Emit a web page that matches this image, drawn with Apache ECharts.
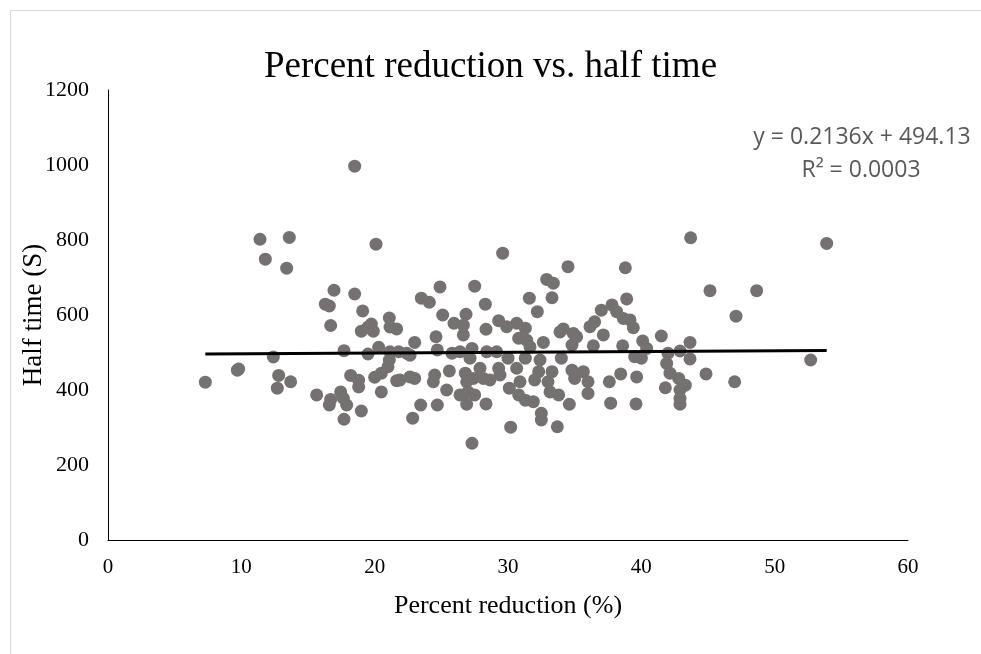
<!DOCTYPE html>
<html>
<head>
<meta charset="utf-8">
<script src="https://cdn.jsdelivr.net/npm/echarts@6/dist/echarts.min.js"></script>
<style>
  html, body { margin: 0; padding: 0; background: #fff; }
  .frame {
    position: absolute; left: 10px; top: 10px; width: 980px; height: 650px;
    border-top: 1px solid #d9d9d9; border-left: 1px solid #d9d9d9;
  }
  #chart { position: absolute; left: 0; top: 0; width: 981px; height: 654px; }
</style>
</head>
<body>
<div class="frame"></div>
<div id="chart"></div>
<script>
// percent reduction (%)
const reduction = [
  7.3, 9.7, 9.8, 11.4, 11.8, 13.6, 13.4, 12.4, 12.8, 12.7, 13.7,
  20.1, 16.95, 18.5, 16.3, 16.6, 19.1, 16.7, 19.75, 19.5, 21.1, 19.0, 19.9, 21.15, 21.65,
  17.7, 19.5, 20.3, 21.15, 21.8, 21.1, 21.0, 18.2, 18.8, 18.8, 20.0, 20.5, 21.65, 20.5,
  15.65, 16.7, 16.6, 17.45, 17.9, 17.65, 19.0, 17.7,
  29.6, 24.9, 27.5, 23.5, 24.1, 28.3, 25.1, 26.85, 25.95, 26.65, 29.3, 29.9, 28.35,
  24.6, 26.65, 23.0, 22.4, 22.65, 24.7, 25.8, 26.4, 27.3, 27.15, 28.4, 29.15,
  25.6, 24.5, 24.4, 22.65, 23.0, 21.9, 26.8, 26.9, 27.4, 27.9, 28.15, 28.65, 29.3, 29.4,
  25.4, 26.4, 27.0, 27.5, 30.1, 23.45, 24.7, 26.9, 28.35, 22.85, 30.2, 27.3,
  34.5, 32.9, 33.4, 31.6, 33.3, 32.2, 37.0, 37.8, 36.5, 36.15, 37.15,
  30.65, 31.3, 30.8, 31.4, 33.9, 34.15, 34.9, 35.15, 32.65, 34.8, 36.4, 31.65,
  30.0, 30.65, 31.3, 32.4, 34.0, 32.3, 32.0, 33.3, 33.0, 34.8, 35.0, 35.65, 36.0,
  30.9, 30.8, 31.3, 33.15, 33.8, 36.0, 31.9, 37.6, 37.7, 34.6, 32.5, 32.5, 33.7,
  43.7, 38.8, 45.15, 38.9, 38.15, 38.65, 39.15, 39.4, 41.5, 40.1, 40.4, 38.6,
  43.65, 42.9, 39.5, 40.0, 42.0, 41.9, 43.65, 38.45, 39.65, 42.15, 42.8, 43.3, 42.9,
  44.85, 41.8, 42.9, 42.9, 39.6,
  53.9, 48.65, 47.1, 52.7, 47.0, 18.5
];
// half time (S)
const halfTime = [
  421, 453, 456, 802, 749, 807, 725, 488, 439, 405, 422,
  789, 666, 656, 629, 624, 611, 572, 576, 568, 592, 557, 557, 568, 563,
  505, 496, 514, 502, 502, 480, 462, 439, 426, 408, 434, 445, 425, 395,
  387, 375, 360, 395, 360, 378, 344, 322,
  765, 675, 677, 645, 634, 629, 600, 602, 578, 573, 585, 569, 562,
  542, 547, 527, 498, 493, 507, 498, 502, 511, 485, 502, 502,
  451, 440, 422, 435, 431, 427, 445, 422, 431, 458, 431, 427, 458, 440,
  400, 387, 395, 387, 405, 360, 360, 362, 363, 325, 301, 258,
  729, 695, 685, 645, 646, 609, 613, 627, 582, 569, 547,
  578, 565, 538, 533, 555, 563, 551, 542, 527, 520, 518, 515,
  485, 458, 485, 480, 485, 449, 427, 449, 422, 453, 431, 449, 422,
  422, 387, 373, 395, 387, 391, 369, 422, 365, 362, 338, 320, 302,
  806, 726, 665, 643, 609, 591, 587, 566, 544, 531, 511, 518,
  527, 504, 489, 485, 498, 471, 483, 443, 435, 445, 431, 413, 400,
  443, 406, 378, 362, 363,
  791, 665, 597, 480, 422, 997
];
// linear trendline end points
const trendX = [7.3, 53.9];
const trendY = [495.7, 505.6];

const xTicks = [0, 10, 20, 30, 40, 50, 60];
const yTicks = [0, 200, 400, 600, 800, 1000, 1200];

const serif = '"Liberation Serif", "Times New Roman", serif';
const sans = '"Open Sans", "Liberation Sans", sans-serif';

const chart = echarts.init(document.getElementById('chart'));
chart.setOption({
  animation: false,
  title: {
    text: 'Percent reduction vs. half time',
    left: 'center',
    top: 44,
    textStyle: { fontFamily: serif, fontSize: 37, fontWeight: 'normal', color: '#000' },
  },
  grid: { left: 108, top: 90, width: 800, height: 450 },
  xAxis: {
    type: 'value',
    min: xTicks[0],
    max: xTicks[xTicks.length - 1],
    interval: 10,
    name: 'Percent reduction (%)',
    nameLocation: 'middle',
    nameGap: 53,
    nameMoveOverlap: false,
    nameTextStyle: { fontFamily: serif, fontSize: 26, color: '#000' },
    axisLine: { lineStyle: { color: '#000', width: 1 } },
    axisTick: { show: false },
    splitLine: { show: false },
    axisLabel: { fontFamily: serif, fontSize: 21, color: '#000', margin: 17 },
  },
  yAxis: {
    type: 'value',
    min: yTicks[0],
    max: yTicks[yTicks.length - 1],
    interval: 200,
    name: 'Half time (S)',
    nameLocation: 'middle',
    nameGap: 61,
    nameMoveOverlap: false,
    nameTextStyle: { fontFamily: serif, fontSize: 27, color: '#000' },
    axisLine: { show: true, lineStyle: { color: '#000', width: 1 } },
    axisTick: { show: false },
    splitLine: { show: false },
    axisLabel: {
      fontFamily: serif, fontSize: 22, color: '#000', margin: 19,
      formatter: (v) => String(v),
    },
  },
  series: [
    {
      type: 'scatter',
      data: reduction.map((x, i) => [x, halfTime[i]]),
      symbol: 'circle',
      symbolSize: 13,
      itemStyle: { color: '#767171', opacity: 1 },
      z: 2,
    },
    {
      type: 'line',
      data: trendX.map((x, i) => [x, trendY[i]]),
      symbol: 'none',
      lineStyle: { color: '#000', width: 3 },
      z: 3,
    },
  ],
  graphic: [
    {
      type: 'text',
      x: 862,
      y: 137,
      style: {
        text: 'y = 0.2136x + 494.13',
        align: 'center', verticalAlign: 'middle',
        fontFamily: sans, fontSize: 23, fill: '#595959',
      },
    },
    {
      type: 'text',
      x: 861,
      y: 170,
      style: {
        text: 'R² = 0.0003',
        align: 'center', verticalAlign: 'middle',
        fontFamily: sans, fontSize: 23, fill: '#595959',
      },
    },
  ],
});
</script>
</body>
</html>
